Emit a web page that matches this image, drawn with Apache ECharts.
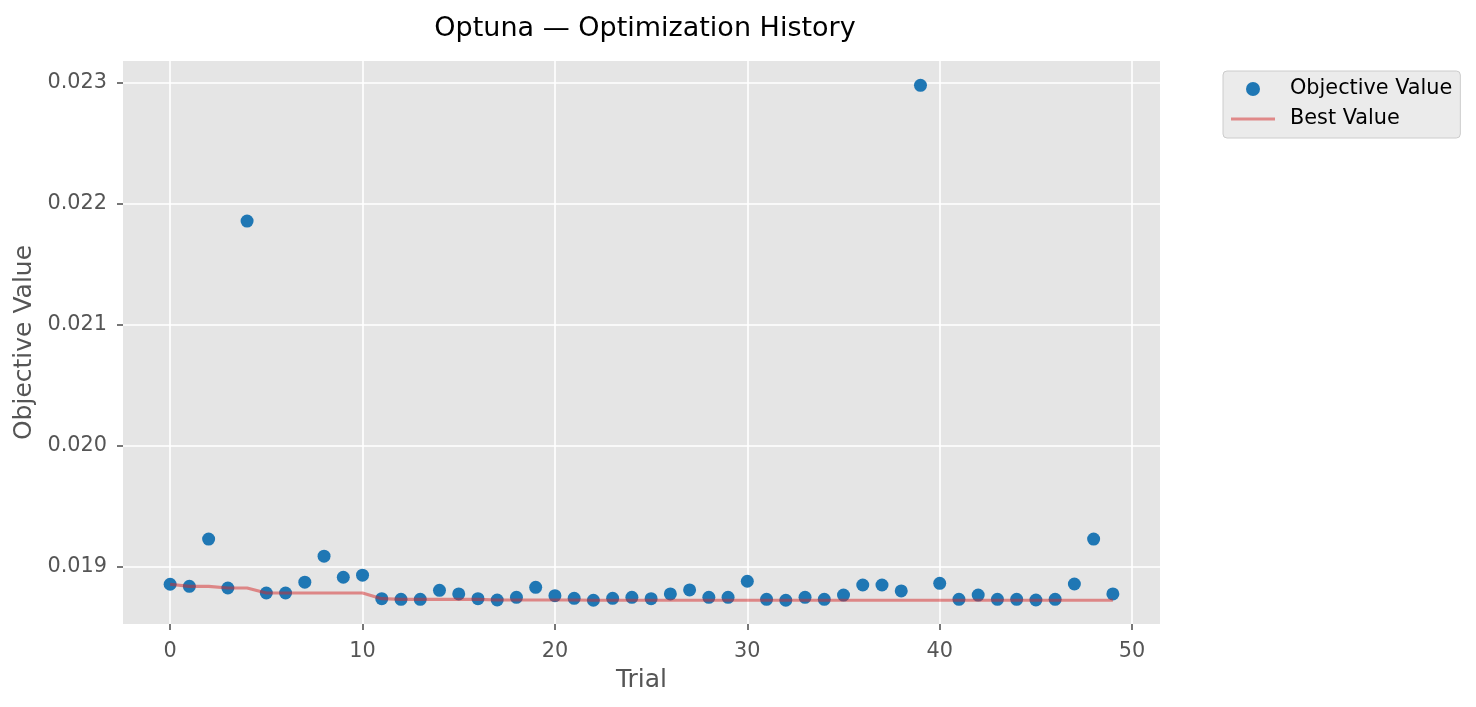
<!DOCTYPE html>
<html>
<head>
<meta charset="utf-8">
<script src="https://cdn.jsdelivr.net/npm/echarts@6/dist/echarts.min.js"></script>
<style>
html,body{margin:0;padding:0;background:#fff;}
#chart{width:1476px;height:707px;}
</style>
</head>
<body>
<div id="chart"></div>
<script>
const trials = [0,1,2,3,4,5,6,7,8,9,10,11,12,13,14,15,16,17,18,19,20,21,22,23,24,25,26,27,28,29,30,31,32,33,34,35,36,37,38,39,40,41,42,43,44,45,46,47,48,49];
const objectiveValues = [0.018857,0.018840,0.019230,0.018826,0.021855,0.018785,0.018785,0.018874,0.019089,0.018915,
  0.018932,0.018738,0.018733,0.018733,0.018807,0.018777,0.018738,0.018727,0.018749,0.018832,
  0.018763,0.018741,0.018725,0.018741,0.018749,0.018738,0.018777,0.018810,0.018749,0.018749,
  0.018882,0.018733,0.018725,0.018749,0.018733,0.018768,0.018851,0.018851,0.018802,0.022975,
  0.018865,0.018733,0.018768,0.018733,0.018733,0.018727,0.018733,0.018859,0.019230,0.018777];
const bestValues = [0.018857,0.018840,0.018840,0.018826,0.018826,0.018785,0.018785,0.018785,0.018785,0.018785,
  0.018785,0.018738,0.018733,0.018733,0.018733,0.018733,0.018733,0.018727,0.018727,0.018727,
  0.018727,0.018727,0.018725,0.018725,0.018725,0.018725,0.018725,0.018725,0.018725,0.018725,
  0.018725,0.018725,0.018725,0.018725,0.018725,0.018725,0.018725,0.018725,0.018725,0.018725,
  0.018725,0.018725,0.018725,0.018725,0.018725,0.018725,0.018725,0.018725,0.018725,0.018725];
const xTicks = [0,10,20,30,40,50];
const yTicks = [0.019,0.020,0.021,0.022,0.023];

const FONT = 'DejaVu Sans';
const chart = echarts.init(document.getElementById('chart'), null, {renderer:'canvas'});
chart.setOption({
  animation:false,
  backgroundColor:'#ffffff',
  title:{
    text:'Optuna — Optimization History',
    left:640, top:10, textAlign:'center',
    textStyle:{fontFamily:FONT,fontSize:27,fontWeight:'normal',color:'#000000'}
  },
  legend:{
    orient:'vertical',
    left:1223, top:71,
    padding:[7,8,8,8],
    itemGap:8,
    itemWidth:44, itemHeight:14,
    backgroundColor:'#EBEBEB',
    borderColor:'#CCCCCC', borderWidth:1, borderRadius:4,
    textStyle:{fontFamily:FONT,fontSize:20.8,color:'#000000',lineHeight:22,padding:[0,0,0,10]},
    data:[
      {name:'Objective Value',icon:'circle',itemStyle:{color:'#1f77b4',opacity:1}},
      {name:'Best Value',icon:'path://M0,0H44V3H0Z',itemStyle:{color:'rgba(214,39,40,0.5)'}}
    ]
  },
  grid:{
    left:123, right:316, top:61, bottom:83,
    show:true, backgroundColor:'#E5E5E5', borderWidth:0
  },
  xAxis:{
    type:'value', min:-2.45, max:51.45,
    name:'Trial', nameLocation:'middle', nameGap:44,
    nameTextStyle:{fontFamily:FONT,fontSize:25,color:'#555555'},
    axisLine:{show:false,onZero:false},
    axisTick:{show:true,length:6,lineStyle:{color:'#555555',width:1.6},customValues:xTicks},
    axisLabel:{fontFamily:FONT,fontSize:20.8,color:'#555555',margin:17,customValues:xTicks},
    splitLine:{show:true,lineStyle:{color:'#ffffff',width:1.6}}
  },
  yAxis:{
    type:'value', min:0.018529, max:0.023176,
    name:'Objective Value', nameLocation:'middle', nameGap:79,
    nameTextStyle:{fontFamily:FONT,fontSize:25,color:'#555555'},
    axisLine:{show:false,onZero:false},
    axisTick:{show:true,length:6,lineStyle:{color:'#555555',width:1.6},customValues:yTicks},
    axisLabel:{fontFamily:FONT,fontSize:20.8,color:'#555555',margin:16,customValues:yTicks,
      formatter:function(v){return v.toFixed(3);}},
    splitLine:{show:true,lineStyle:{color:'#ffffff',width:1.6}}
  },
  series:[
    {
      name:'Objective Value', type:'scatter',
      data:trials.map((t,i)=>[t,objectiveValues[i]]),
      symbol:'circle', symbolSize:13,
      itemStyle:{color:'#1f77b4',opacity:1},
      z:2
    },
    {
      name:'Best Value', type:'line',
      data:trials.map((t,i)=>[t,bestValues[i]]),
      symbol:'none', showSymbol:false,
      lineStyle:{color:'rgba(214,39,40,0.5)',width:3.2},
      itemStyle:{color:'rgba(214,39,40,0.5)'},
      z:3
    }
  ]
});
</script>
</body>
</html>
